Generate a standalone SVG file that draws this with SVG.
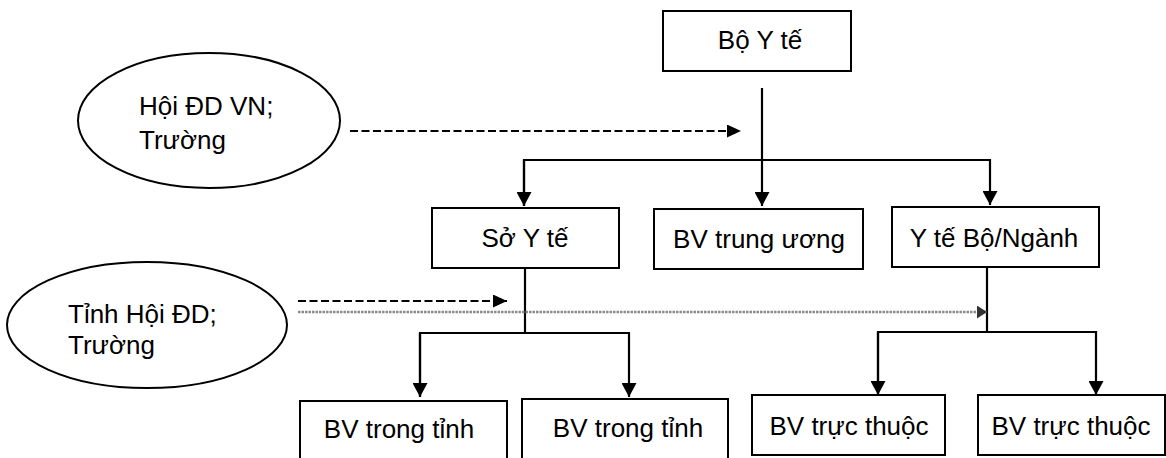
<svg xmlns="http://www.w3.org/2000/svg" width="1166" height="458" viewBox="0 0 1166 458">
<style>
.box{fill:#fff;stroke:#000;stroke-width:2}
.ell{fill:#fff;stroke:#000;stroke-width:2}
.t{font-family:"Liberation Sans",Arial,sans-serif;font-size:26px;fill:#000}
.c{text-anchor:middle}
.line{fill:none;stroke:#000;stroke-width:2.2}
.dash{fill:none;stroke:#000;stroke-width:2;stroke-dasharray:8 3.5}
.dot{fill:none;stroke:#8a8a8a;stroke-width:2.5;stroke-dasharray:2.5 1}
</style>
<defs>
<marker id="ah" markerUnits="userSpaceOnUse" markerWidth="15" markerHeight="15" refX="14" refY="7.5" orient="auto">
<path d="M0,0 L14,7.5 L0,15 z" fill="#000"/>
</marker>
<marker id="ahs" markerUnits="userSpaceOnUse" markerWidth="15" markerHeight="14" refX="14" refY="6.5" orient="auto">
<path d="M0,0 L14,6.5 L0,13 z" fill="#000"/>
</marker>
<marker id="ahg" markerUnits="userSpaceOnUse" markerWidth="12" markerHeight="14" refX="10" refY="6.5" orient="auto">
<path d="M0,0 L10,6.5 L0,13 z" fill="#333"/>
</marker>
</defs>
<g id="connectors">
<path class="line" d="M762,88 V206" marker-end="url(#ah)"/>
<path class="line" d="M524,206 V160 H990 V205" marker-end="url(#ah)"/>
<path class="line" d="M524,160 V206" marker-end="url(#ah)"/>
<path class="line" d="M525,268 V333"/>
<path class="line" d="M420,397 V333 H629 V397" marker-end="url(#ah)"/>
<path class="line" d="M420,333 V397" marker-end="url(#ah)"/>
<path class="line" d="M987,267 V332"/>
<path class="line" d="M878,395 V332 H1096 V395" marker-end="url(#ah)"/>
<path class="line" d="M878,332 V395" marker-end="url(#ah)"/>
<path class="dash" d="M350,131 H741" marker-end="url(#ahs)"/>
<path class="dash" d="M298,301 H507" marker-end="url(#ahs)"/>
<path class="dot" d="M298,312 H987" marker-end="url(#ahg)"/>
</g>
<g id="bo-y-te">
<rect class="box" x="663" y="11" width="188" height="60"/>
<text class="t c" x="760" y="49">Bộ Y tế</text>
</g>
<g id="hoi-dd-vn">
<ellipse class="ell" cx="209" cy="120.5" rx="131" ry="67.5"/>
<text class="t" x="139" y="115">Hội ĐD VN;</text>
<text class="t" x="139" y="149">Trường</text>
</g>
<g id="so-y-te">
<rect class="box" x="432" y="208" width="187" height="60"/>
<text class="t c" x="525" y="247">Sở Y tế</text>
</g>
<g id="bv-trung-uong">
<rect class="box" x="654" y="209" width="209" height="60"/>
<text class="t c" x="759" y="248">BV trung ương</text>
</g>
<g id="y-te-bo-nganh">
<rect class="box" x="892" y="207" width="207" height="60"/>
<text class="t c" x="994" y="247">Y tế Bộ/Ngành</text>
</g>
<g id="tinh-hoi-dd">
<ellipse class="ell" cx="147" cy="325" rx="140" ry="63"/>
<text class="t" x="68" y="323">Tỉnh Hội ĐD;</text>
<text class="t" x="68" y="354">Trường</text>
</g>
<g id="bv-trong-tinh-1">
<rect class="box" x="300" y="401" width="207" height="70"/>
<text class="t c" x="399" y="438">BV trong tỉnh</text>
</g>
<g id="bv-trong-tinh-2">
<rect class="box" x="522" y="399" width="206" height="70"/>
<text class="t c" x="628" y="437">BV trong tỉnh</text>
</g>
<g id="bv-truc-thuoc-1">
<rect class="box" x="752" y="395" width="193" height="60"/>
<text class="t c" x="849" y="435">BV trực thuộc</text>
</g>
<g id="bv-truc-thuoc-2">
<rect class="box" x="978" y="395" width="187" height="60"/>
<text class="t c" x="1071" y="435">BV trực thuộc</text>
</g>
</svg>
